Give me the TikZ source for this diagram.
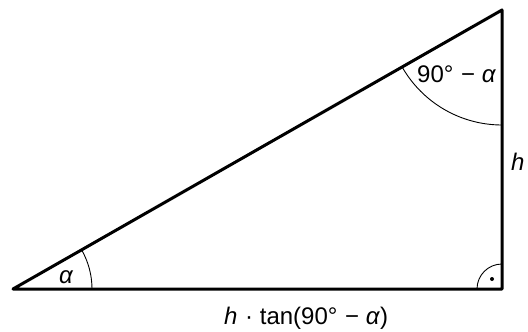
\documentclass[tikz,border=0pt]{standalone}
\usepackage{fontspec}
\setmainfont{Liberation Sans}
\usetikzlibrary{calc}
\begin{document}
\begin{tikzpicture}[x=1pt,y=-1pt,
  side/.style={line width=3pt,line cap=round,line join=round},
  anglearc/.style={line width=0.9pt},
  lbl/.style={font=\fontsize{24}{27}\selectfont,inner sep=0pt,anchor=base west}]
\useasboundingbox (0,0) rectangle (528,332);
\coordinate (A) at (13,289);
\coordinate (B) at (502,289);
\coordinate (C) at (502,10);
\draw[side] (A) -- (B) -- (C) -- cycle;
% angle arcs
\draw[anglearc] ($(A)+(79,0)$) arc[start angle=0,end angle=-29.7,radius=79];
\draw[anglearc] ($(C)+(0,115)$) arc[start angle=90,end angle=150.3,radius=115];
\draw[anglearc] ($(B)+(-25,0)$) arc[start angle=180,end angle=270,radius=25];
\fill (492,279) circle (2);
\node[lbl] (la) at (59,283) {\textit{α}};
\node[lbl] (lc) at (417,82) {90°\hspace{1pt} − \textit{α}};
\node[lbl] (lh) at (511,170) {\textit{h}};
\node[lbl] (lb) at (224,324) {\textit{h}\hspace{1pt} · tan(90°\hspace{1pt} − \textit{α})};
\end{tikzpicture}
\end{document}
